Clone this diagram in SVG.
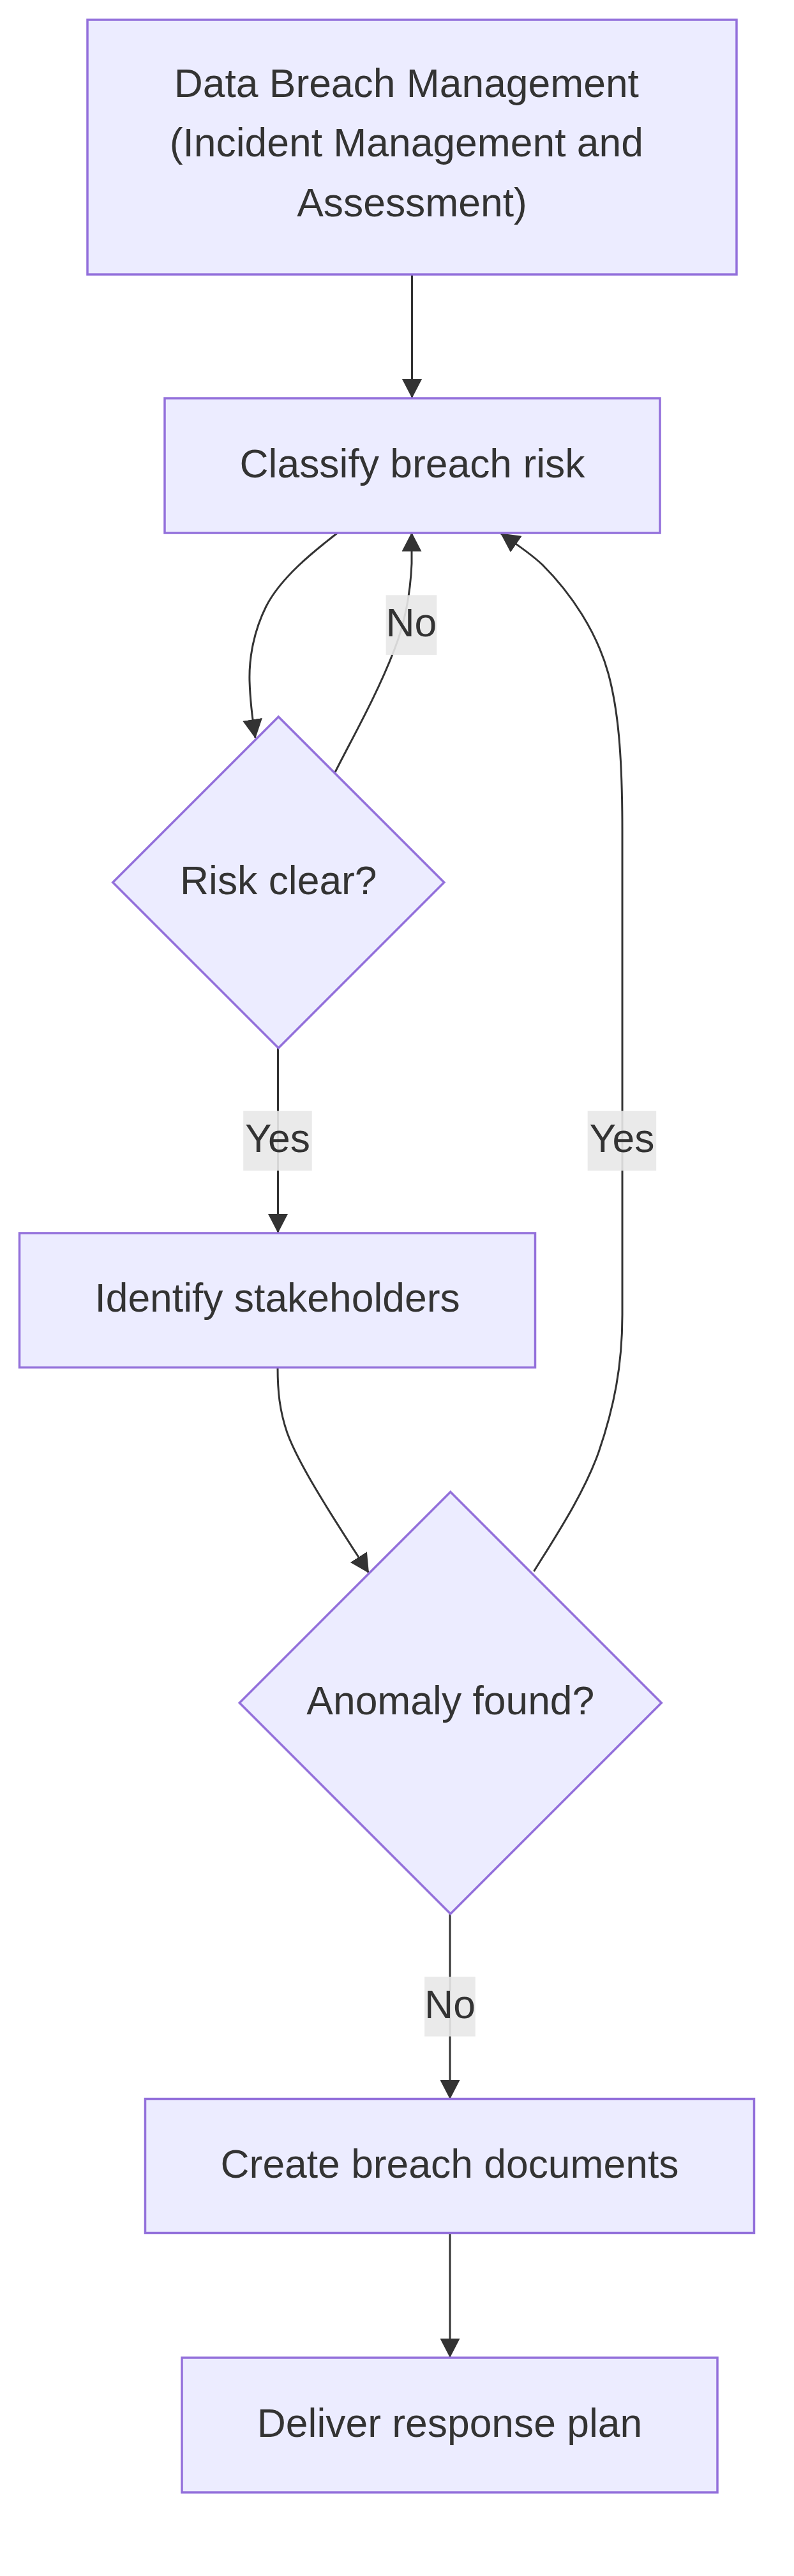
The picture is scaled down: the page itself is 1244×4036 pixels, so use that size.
<svg xmlns="http://www.w3.org/2000/svg" width="1244" height="4036" viewBox="0 0 1244 4036">
<style>
  .node rect, .node polygon { fill: #ECECFF; stroke: #9370DB; stroke-width: 3.5; }
  .node text, .lbl text { font-family: "Liberation Sans", Arial, sans-serif; font-size: 62.4px; fill: #333333; text-anchor: middle; }
  .edge { fill: none; stroke: #333333; stroke-width: 3; marker-end: url(#arrow); }
  .lbl rect { fill: #e8e8e8; fill-opacity: 0.9; }
</style>
<defs>
  <marker id="arrow" viewBox="0 0 30 31" refX="29" refY="15.5" markerWidth="30" markerHeight="31" markerUnits="userSpaceOnUse" orient="auto">
    <path d="M0,0 L30,15.5 L0,31 z" fill="#333333"/>
  </marker>
</defs>
<rect width="1244" height="4036" fill="#ffffff"/>

<g id="connectors">
  <path class="edge" d="M645.5,430 L645.5,623"/>
  <path class="edge" d="M530,834 C490,865 440,905 417,950 C398,988 390,1030 391,1067 C392,1100 396,1130 400,1156"/>
  <path class="edge" d="M525,1210 C550,1160 590,1090 617,1020 C635,975 643,930 645,883 L645,835"/>
  <path class="edge" d="M435.5,1642 L435.5,1931"/>
  <path class="edge" d="M435,2142 C435,2180 438,2210 450,2245 C470,2300 530,2390 577.5,2464"/>
  <path class="edge" d="M836.5,2462 C870,2408 915,2340 938,2275 C962,2205 975,2140 975,2060 L975,1300 C975,1180 968,1110 953,1055 C935,990 895,930 850,885 C830,866 805,850 785,836"/>
  <path class="edge" d="M705,2998.5 L705,3288"/>
  <path class="edge" d="M705,3498.5 L705,3693"/>
</g>

<g id="edge-labels">
  <g class="lbl" id="label-no-1"><rect x="604.6" y="932.4" width="79.7" height="93.6"/><text x="644.4" y="997">No</text></g>
  <g class="lbl" id="label-yes-1"><rect x="381.2" y="1740.6" width="107.5" height="93.6"/><text x="435" y="1805.4">Yes</text></g>
  <g class="lbl" id="label-yes-2"><rect x="920.7" y="1740.6" width="107.5" height="93.6"/><text x="974.5" y="1805.4">Yes</text></g>
  <g class="lbl" id="label-no-2"><rect x="665.1" y="3097" width="79.7" height="93.6"/><text x="705" y="3162">No</text></g>
</g>

<g id="node-start" class="node">
  <rect x="137" y="31" width="1017" height="399"/>
  <text x="636.8" y="151.5">Data Breach Management</text>
  <text x="636.8" y="245.2">(Incident Management and</text>
  <text x="645.5" y="338.9">Assessment)</text>
</g>
<g id="node-classify" class="node">
  <rect x="258" y="624" width="776" height="211"/>
  <text x="646" y="747.5">Classify breach risk</text>
</g>
<g id="node-risk" class="node">
  <polygon points="436.3,1123 695.8,1382.5 436.3,1642 176.8,1382.5"/>
  <text x="436.3" y="1400.5">Risk clear?</text>
</g>
<g id="node-identify" class="node">
  <rect x="30.5" y="1932" width="808" height="210.5"/>
  <text x="434.5" y="2055">Identify stakeholders</text>
</g>
<g id="node-anomaly" class="node">
  <polygon points="705.8,2337.5 1036.3,2668 705.8,2998.5 375.3,2668"/>
  <text x="705.8" y="2686">Anomaly found?</text>
</g>
<g id="node-create" class="node">
  <rect x="227.5" y="3288.5" width="954" height="210"/>
  <text x="704.5" y="3411.5">Create breach documents</text>
</g>
<g id="node-deliver" class="node">
  <rect x="285" y="3694" width="839" height="211"/>
  <text x="704.5" y="3817.5">Deliver response plan</text>
</g>
</svg>
